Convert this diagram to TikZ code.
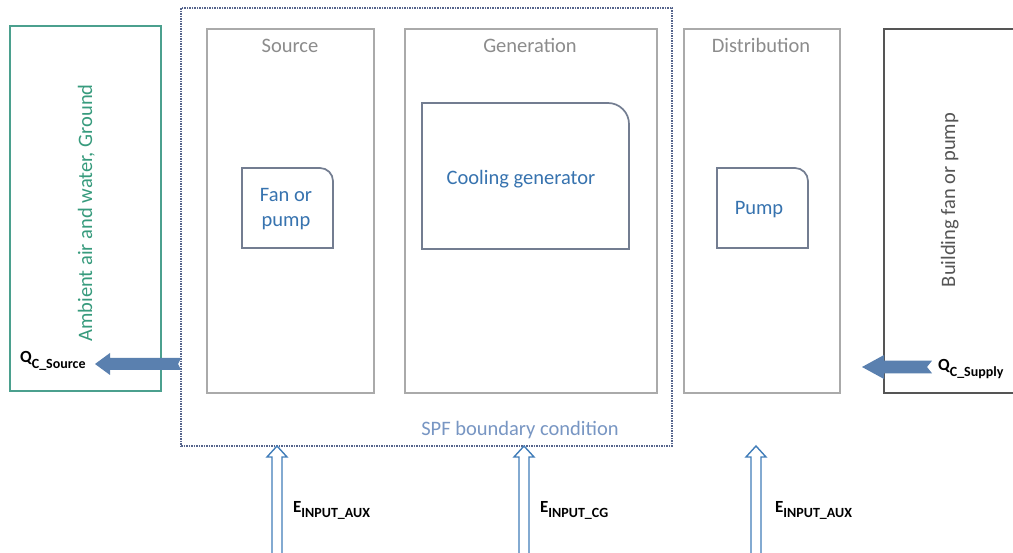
\documentclass[tikz,border=0pt]{standalone}
\usepackage{fontspec}
\setmainfont{Carlito}
\usetikzlibrary{calc}
\definecolor{teal1}{RGB}{75,160,142}
\definecolor{tealtxt}{RGB}{55,155,125}
\definecolor{boxgray}{RGB}{170,170,170}
\definecolor{lblgray}{RGB}{140,140,140}
\definecolor{darkbox}{RGB}{85,85,85}
\definecolor{dashblue}{RGB}{85,100,140}
\definecolor{innerbd}{RGB}{115,125,145}
\definecolor{innertxt}{RGB}{55,115,175}
\definecolor{spftxt}{RGB}{120,150,195}
\definecolor{qfill}{RGB}{90,128,175}
\definecolor{eline}{RGB}{65,125,185}
\tikzset{
  outerbox/.style={draw=boxgray,line width=1.7pt,minimum width=#1,minimum height=364pt,inner sep=0pt,outer sep=0pt},
  lbl/.style={text=lblgray,font=\fontsize{20.5}{24}\selectfont,inner sep=0pt,anchor=base},
  innerlbl/.style={text=innertxt,font=\fontsize{20.5}{25}\selectfont,inner sep=0pt,anchor=base,align=center},
  innerbox/.style={draw=innerbd,line width=1.7pt,fill=white},
  qarrow/.style={fill=qfill,draw=none},
  earrow/.style={draw=eline,line width=1.4pt,fill=white,line join=miter},
  elbl/.style={inner sep=0pt,anchor=base west,font=\bfseries},
}
\newcommand{\Esub}[1]{{\fontsize{17}{20}\selectfont E}\raisebox{-5pt}{\fontsize{14}{16}\selectfont #1}}
\newcommand{\Qsub}[1]{{\fontsize{17}{19}\selectfont Q}\raisebox{-6pt}{\fontsize{14}{16}\selectfont #1}}
\begin{document}
\begin{tikzpicture}[x=1pt,y=1pt]
\useasboundingbox (0,0) rectangle (1013,-553);
\clip (0,0) rectangle (1013,-553);
\fill[white] (0,0) rectangle (1013,-553);
% ambient box
\node[draw=teal1,line width=1.7pt,minimum width=151pt,minimum height=365pt,inner sep=0pt] (amb) at (85.5,-208.5) {};
\node[rotate=90,anchor=base,inner sep=0pt,text=tealtxt,font=\fontsize{20.5}{24}\selectfont] (ambl) at (92,-213) {Ambient air and water, Ground};
% SPF boundary
\node[draw=dashblue,line width=1.5pt,dash pattern=on 1.5pt off 1pt,minimum width=491pt,minimum height=438pt,inner sep=0pt] (spf) at (426.5,-227) {};
\node[anchor=base,inner sep=0pt,text=spftxt,font=\fontsize{20.5}{24}\selectfont] (spfl) at (520,-436) {SPF boundary condition};
% stage boxes
\node[outerbox=167pt] (src) at (290.5,-211) {};
\node[outerbox=252pt] (gen) at (531,-211) {};
\node[outerbox=156pt] (dist) at (762,-211) {};
\node[draw=darkbox,line width=1.7pt,minimum width=146pt,minimum height=364pt,inner sep=0pt] (bld) at (957,-211) {};
\node[rotate=90,anchor=base,inner sep=0pt,text=darkbox,font=\fontsize{20.5}{24}\selectfont] (bldl) at (955,-200) {Building fan or pump};
\node[lbl] (srcl) at (290,-53) {Source};
\node[lbl] (genl) at (530,-53) {Generation};
\node[lbl] (distl) at (761,-53) {Distribution};
% inner boxes with one rounded corner
\draw[innerbox] (242,-248) -- (242,-168) -- (320,-168) arc[start angle=90,end angle=0,radius=13] -- (333,-248) -- cycle;
\draw[innerbox] (422,-249) -- (422,-103) -- (608,-103) arc[start angle=90,end angle=0,radius=21] -- (629,-249) -- cycle;
\draw[innerbox] (717,-248) -- (717,-168) -- (795,-168) arc[start angle=90,end angle=0,radius=13] -- (808,-248) -- cycle;
\node[innerlbl] (fanl) at (286,-227) {Fan or\\pump};
\node[innerlbl] (cgl) at (521,-185) {Cooling generator};
\node[innerlbl] (pumpl) at (759,-215) {Pump};
% Q arrows
\fill[qarrow] (181,-358) -- (110,-358) -- (110,-353) -- (95,-364) -- (110,-375) -- (110,-370) -- (181,-370) -- (178,-364) -- cycle;
\fill[qarrow] (932,-360.7) -- (884,-360.7) -- (884,-355) -- (862,-367) -- (884,-379) -- (884,-373.3) -- (932,-373.3) -- (927,-367) -- cycle;
\node[elbl] (qsrc) at (20,-363) {\Qsub{C\_Source}};
\node[elbl] (qsup) at (938,-371) {\Qsub{C\_Supply}};
% E arrows
\foreach \cx/\nm in {277/ea,524/eb,756/ec}{
  \coordinate (\nm) at (\cx,-446);
  \draw[earrow] (\nm) -- ++(10,-11) -- ++(-5,0) -- ++(0,-110) -- ++(-10,0) -- ++(0,110) -- ++(-5,0) -- cycle;
}
\node[elbl] (e1) at (293,-512) {\Esub{INPUT\_AUX}};
\node[elbl] (e2) at (540,-512) {\Esub{INPUT\_CG}};
\node[elbl] (e3) at (775,-512) {\Esub{INPUT\_AUX}};
\end{tikzpicture}
\end{document}
